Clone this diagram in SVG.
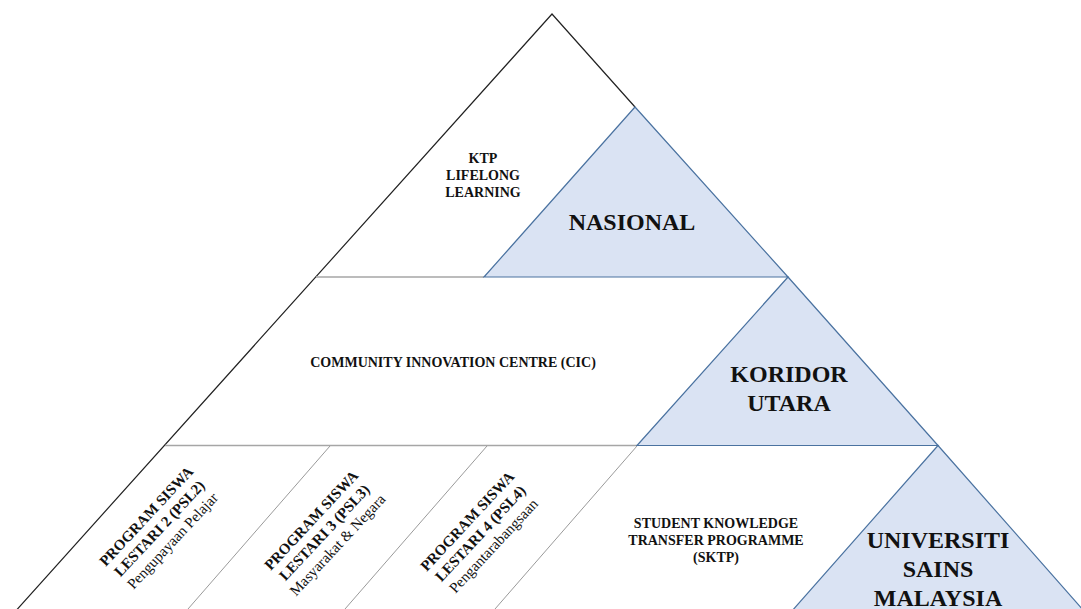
<svg xmlns="http://www.w3.org/2000/svg" width="1081" height="609" viewBox="0 0 1081 609">
<style>
  .t{font-family:"Liberation Serif","Times New Roman",serif;fill:#111;text-anchor:middle}
  .b{font-weight:bold}
  .s{font-size:14px}
  .p{font-size:15px}
  .L{font-size:24px;font-weight:bold}
  .r{font-weight:normal}
  .blue{fill:#dae3f3;stroke:#4a72a0;stroke-width:1.2}
  .out{fill:none;stroke:#222;stroke-width:1.2}
  .gray{fill:none;stroke:#a6a6a6;stroke-width:1.3}
  .div{fill:none;stroke:#9a9a9a;stroke-width:1}
</style>
<rect x="0" y="0" width="1081" height="609" fill="#ffffff"/>
<g id="connectors">
  <polyline class="out" points="4,624 552,14 635,107"/>
  <line class="gray" x1="316" y1="277" x2="484" y2="277"/>
  <line class="gray" x1="165" y1="445.5" x2="637" y2="445.5"/>
  <line class="div" x1="330" y1="446" x2="188" y2="609"/>
  <line class="div" x1="487" y1="446" x2="345" y2="609"/>
  <line class="div" x1="637" y1="446" x2="495" y2="609"/>
</g>
<g id="nasional">
  <polygon class="blue" points="635,107 484,277 788,277"/>
  <text class="t L" x="632" y="230">NASIONAL</text>
</g>
<g id="koridor">
  <polygon class="blue" points="788,277 637,445.5 938,445.5"/>
  <text class="t L" x="789" y="382">KORIDOR</text>
  <text class="t L" x="789" y="411">UTARA</text>
</g>
<g id="usm">
  <polygon class="blue" points="938,445.5 784,620 1092,620"/>
  <text class="t L" x="938" y="548">UNIVERSITI</text>
  <text class="t L" x="938" y="577">SAINS</text>
  <text class="t L" x="938" y="606">MALAYSIA</text>
</g>
<g id="ktp">
  <text class="t b s" x="483" y="163">KTP</text>
  <text class="t b s" x="483" y="180">LIFELONG</text>
  <text class="t b s" x="483" y="197">LEARNING</text>
</g>
<g id="cic">
  <text class="t b s" x="453" y="367">COMMUNITY INNOVATION CENTRE (CIC)</text>
</g>
<g id="psl2" transform="translate(163,532) rotate(-47)">
  <text class="t b p" x="0" y="-18">PROGRAM SISWA</text>
  <text class="t b p" x="0" y="0">LESTARI 2 (PSL2)</text>
  <text class="t p r" x="0" y="18">Pengupayaan Pelajar</text>
</g>
<g id="psl3" transform="translate(328,536) rotate(-47)">
  <text class="t b p" x="0" y="-18">PROGRAM SISWA</text>
  <text class="t b p" x="0" y="0">LESTARI 3 (PSL3)</text>
  <text class="t p r" x="0" y="18">Masyarakat &amp; Negara</text>
</g>
<g id="psl4" transform="translate(484,537) rotate(-47)">
  <text class="t b p" x="0" y="-18">PROGRAM SISWA</text>
  <text class="t b p" x="0" y="0">LESTARI 4 (PSL4)</text>
  <text class="t p r" x="0" y="18">Pengantarabangsaan</text>
</g>
<g id="sktp">
  <text class="t b s" x="716" y="528">STUDENT KNOWLEDGE</text>
  <text class="t b s" x="716" y="545">TRANSFER PROGRAMME</text>
  <text class="t b s" x="716" y="562">(SKTP)</text>
</g>
</svg>
